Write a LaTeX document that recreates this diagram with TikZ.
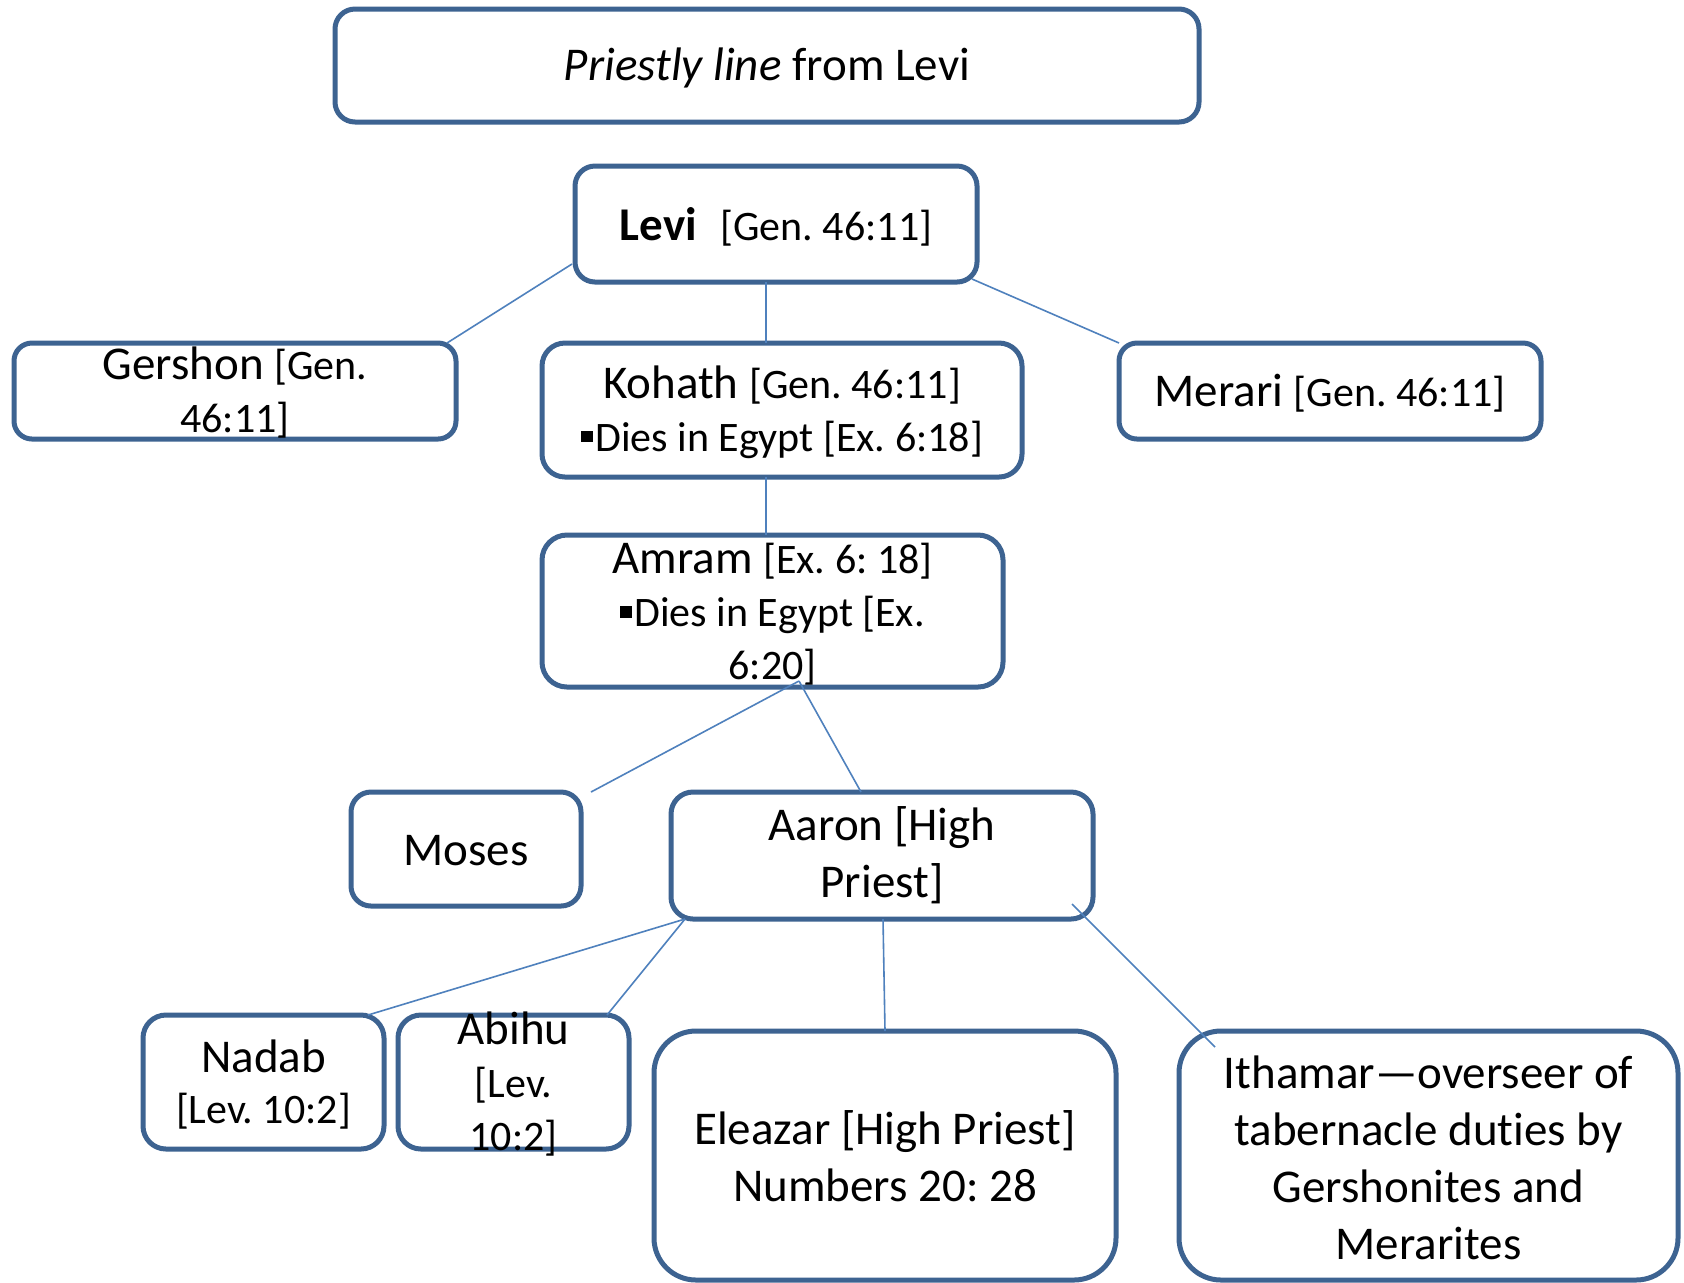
\documentclass[tikz,border=0pt]{standalone}
\usepackage{fontspec}
\setmainfont{Carlito}[Ligatures=NoCommon]
\usetikzlibrary{calc}
\definecolor{boxline}{HTML}{3D6391}
\definecolor{linkline}{HTML}{4F81BD}
\newcommand{\namesize}{\fontsize{23.5}{28.5}\selectfont}
\newcommand{\refsize}{\fontsize{21}{25}\selectfont}
\newcommand{\sqbullet}{\rule[0.21em]{0.28em}{0.28em}\hspace{0.06em}}
\frenchspacing
\tikzset{
  famnode/.style={rectangle, draw=boxline, line width=2.5pt, rounded corners=#1,
    fill=white, inner sep=0pt, outer sep=0pt},
  famnode/.default=9pt,
  famtext/.style={align=center, inner sep=0pt, font=\namesize, text=black},
  link/.style={draw=linkline, line width=0.8pt}
}
\begin{document}
\begin{tikzpicture}[x=0.5pt, y=-0.5pt]
\useasboundingbox[fill=white] (0,0) rectangle (1684,1282);

% boxes (corner radius about a sixth of the box height)
\node[famnode=10pt,   minimum width=432pt,   minimum height=56.5pt] (title)   at (767,65.5) {};
\node[famnode=10pt,   minimum width=201pt,   minimum height=58pt]   (levi)    at (776,224) {};
\node[famnode=9pt,    minimum width=221pt,   minimum height=48pt]   (gershon) at (235,391) {};
\node[famnode=11.5pt, minimum width=240pt,   minimum height=67pt]   (kohath)  at (782,410) {};
\node[famnode=9pt,    minimum width=211pt,   minimum height=48pt]   (merari)  at (1330,391) {};
\node[famnode=12.5pt, minimum width=230.5pt, minimum height=76pt]   (amram)   at (772.5,611) {};
\node[famnode=10pt,   minimum width=115pt,   minimum height=57pt]   (moses)   at (466,849) {};
\node[famnode=11pt,   minimum width=211pt,   minimum height=63.5pt] (aaron)   at (882,855.5) {};
\node[famnode=11.5pt, minimum width=120.5pt, minimum height=67pt]   (nadab)   at (263.5,1082) {};
\node[famnode=11.5pt, minimum width=115.5pt, minimum height=67pt]   (abihu)   at (513.5,1082) {};
\node[famnode=21pt,   minimum width=231pt,   minimum height=124.5pt](eleazar) at (885,1155.5) {};
\node[famnode=21pt,   minimum width=249.5pt, minimum height=124.5pt](ithamar) at (1428.5,1155.5) {};

% texts
\node[famtext] (title-t) at ($(title.center)+(0,2)$) {\textit{Priestly line} from Levi};
\node[famtext] (levi-t) at ($(levi.center)+(0,3)$) {\textbf{Levi}\hspace{0.5em}{\refsize [Gen. 46:11]}};
\node[famtext] (gershon-t) at ($(gershon.center)+(0,2)$) {Gershon {\refsize [Gen.}\\[-2pt] {\refsize 46:11]}};
\node[famtext] (kohath-t) at ($(kohath.center)+(0,2)$) {Kohath {\refsize [Gen. 46:11]}\\[-2pt] {\refsize\sqbullet Dies in Egypt [Ex. 6:18]}};
\node[famtext] (merari-t) at ($(merari.center)+(0,2)$) {Merari {\refsize [Gen. 46:11]}};
\node[famtext] (amram-t) at ($(amram.center)+(0,3)$) {Amram {\refsize [Ex. 6: 18]}\\[-2pt] {\refsize\sqbullet Dies in Egypt [Ex.}\\[-2pt] {\refsize 6:20]}};
\node[famtext] (moses-t) at ($(moses.center)+(0,2)$) {Moses};
\node[famtext] (aaron-t) at ($(aaron.center)+(0,0)$) {Aaron [High\\ Priest]};
\node[famtext] (nadab-t) at ($(nadab.center)+(0,3)$) {Nadab\\[-3pt] {\refsize [Lev. 10:2]}};
\node[famtext] (abihu-t) at ($(abihu.center)+(0,2)$) {Abihu\\[-2pt] {\refsize [Lev.}\\[-2pt] {\refsize 10:2]}};
\node[famtext] (eleazar-t) at ($(eleazar.center)+(0,1)$) {Eleazar [High Priest]\\ Numbers 20: 28};
\node[famtext] (ithamar-t) at ($(ithamar.center)+(0,2)$) {Ithamar\textemdash overseer of\\ tabernacle duties by\\ Gershonites and\\ Merarites};

% connectors
\draw[link] ($(levi.south west)+(-3,-18)$) -- ($(gershon.north east)+(-9,0)$);
\draw[link] ($(levi.south)+(-10,0)$) -- ($(kohath.north)+(-16,0)$);
\draw[link] ($(levi.south east)+(-5,-3)$) -- (merari.north west);
\draw[link] ($(kohath.south)+(-16,0)$) -- ($(amram.north)+(-6.5,0)$);
\draw[link] ($(amram.south)+(26.5,-6)$) -- ($(moses.north east)+(10,0)$);
\draw[link] ($(amram.south)+(26.5,-6)$) -- ($(aaron.north)+(-21,0)$);
\draw[link] ($(aaron.south west)+(14,0)$) -- ($(nadab.north east)+(-16,0)$);
\draw[link] ($(aaron.south west)+(14,0)$) -- ($(abihu.north east)+(-22,0)$);
\draw[link] ($(aaron.south)+(1,0)$) -- (eleazar.north);
\draw[link] ($(aaron.south east)+(-21,-15)$) -- ($(ithamar.north west)+(36,16)$);
\end{tikzpicture}
\end{document}
